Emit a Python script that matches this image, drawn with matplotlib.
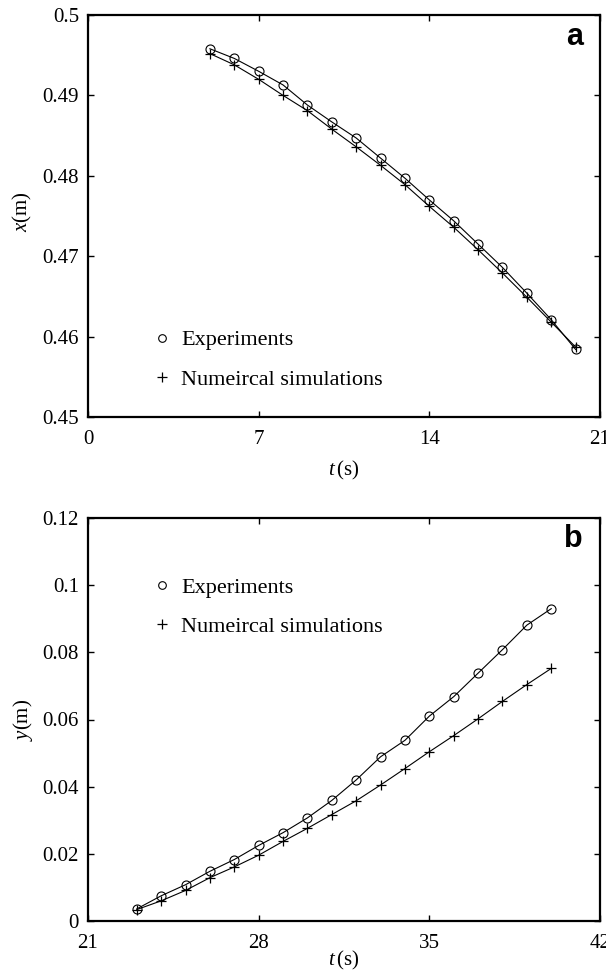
import matplotlib
matplotlib.use("Agg")
import matplotlib.pyplot as plt
from matplotlib.lines import Line2D

# ---- data ----
t_a = [5, 6, 7, 8, 9, 10, 11, 12, 13, 14, 15, 16, 17, 18, 19, 20]
exp_a = [0.4958, 0.4946, 0.4930, 0.4913, 0.4888, 0.4867, 0.4847, 0.4822,
         0.4797, 0.4770, 0.4744, 0.4715, 0.4686, 0.4654, 0.4621, 0.4584]
sim_a = [0.4952, 0.4938, 0.4920, 0.4900, 0.4881, 0.4858, 0.4836, 0.4813,
         0.4789, 0.4762, 0.4736, 0.4708, 0.4679, 0.4649, 0.4618, 0.4587]

t_b = [23, 24, 25, 26, 27, 28, 29, 30, 31, 32, 33, 34, 35, 36, 37, 38, 39, 40]
exp_b = [0.0036, 0.0075, 0.0108, 0.0148, 0.0183, 0.0225, 0.0263, 0.0307, 0.0359,
         0.0420, 0.0489, 0.0538, 0.0610, 0.0668, 0.0738, 0.0808, 0.0881, 0.0930]
sim_b = [0.0034, 0.0060, 0.0091, 0.0129, 0.0161, 0.0196, 0.0237, 0.0276, 0.0317,
         0.0358, 0.0405, 0.0454, 0.0504, 0.0552, 0.0602, 0.0654, 0.0704, 0.0752]

xticks_a = [0, 7, 14, 21]
yticks_a = [0.45, 0.46, 0.47, 0.48, 0.49, 0.5]
yticklabels_a = ['0.45', '0.46', '0.47', '0.48', '0.49', '0.5']
xticks_b = [21, 28, 35, 42]
yticks_b = [0, 0.02, 0.04, 0.06, 0.08, 0.1, 0.12]
yticklabels_b = ['0', '0.02', '0.04', '0.06', '0.08', '0.1', '0.12']

labels = ['Experiments', 'Numeircal simulations']

# ---- style ----
plt.rcParams['font.family'] = ['Liberation Serif', 'DejaVu Serif']
plt.rcParams['mathtext.fontset'] = 'custom'
plt.rcParams['mathtext.rm'] = 'Liberation Serif'
plt.rcParams['mathtext.it'] = 'Liberation Serif:italic'

fig = plt.figure(figsize=(6.06, 9.73), dpi=100)
W, H = 606, 973
ax_a = fig.add_axes([88 / W, 1 - 417 / H, 512 / W, 402 / H])
ax_b = fig.add_axes([88 / W, 1 - 921 / H, 512 / W, 403 / H])

tick_fs = 15
ms = 6.5
lw = 0.8


def style(ax, xt, yt, ytl, xlim, ylim):
    ax.set_xlim(*xlim)
    ax.set_ylim(*ylim)
    ax.set_xticks(xt)
    ax.set_xticklabels([str(v) for v in xt])
    ax.set_yticks(yt)
    ax.set_yticklabels(ytl)
    ax.tick_params(direction='in', length=4, width=1.0, top=True, right=True,
                   labelsize=tick_fs)
    ax.tick_params(axis='x', pad=9.5)
    ax.tick_params(axis='y', pad=6.5)
    for s in ax.spines.values():
        s.set_linewidth(1.6)


def draw(ax, t, e, s):
    ax.plot(t, e, '-', color='black', lw=lw, marker='o', ms=ms,
            mfc='none', mec='black', mew=0.8)
    ax.plot(t, s, '-', color='black', lw=lw, marker='+', ms=ms + 1,
            mec='black', mew=0.9)


def legend(ax, y):
    handles = [Line2D([], [], ls='none', marker='o', ms=5.5, mfc='none',
                      mec='black', mew=0.8),
               Line2D([], [], ls='none', marker='+', ms=6.5, mec='black',
                      mew=0.9)]
    ax.legend(handles, labels, loc='center left', bbox_to_anchor=(0.1225, y),
              frameon=False, fontsize=16, handlelength=1.0,
              handletextpad=0.37, borderpad=0, borderaxespad=0,
              labelspacing=0.85)


draw(ax_a, t_a, exp_a, sim_a)
style(ax_a, xticks_a, yticks_a, yticklabels_a, (0, 21), (0.45, 0.5))
ax_a.set_xlabel(r'$t\,$(s)', fontsize=tick_fs, va='center')
ax_a.xaxis.set_label_coords(0.5, -0.132)
ax_a.set_ylabel(r'$x$(m)', fontsize=tick_fs, va='center')
ax_a.yaxis.set_label_coords(-0.127, 0.51)
legend(ax_a, 0.142)
ax_a.text(0.967, 0.945, 'a', transform=ax_a.transAxes, ha='right',
          va='center', fontsize=22, fontweight='bold',
          family=['Liberation Sans', 'DejaVu Sans'])

draw(ax_b, t_b, exp_b, sim_b)
style(ax_b, xticks_b, yticks_b, yticklabels_b, (21, 42), (0, 0.12))
ax_b.set_xlabel(r'$t\,$(s)', fontsize=tick_fs, va='center')
ax_b.xaxis.set_label_coords(0.5, -0.097)
ax_b.set_ylabel(r'$y$(m)', fontsize=tick_fs, va='center')
ax_b.yaxis.set_label_coords(-0.127, 0.5)
legend(ax_b, 0.779)
ax_b.text(0.967, 0.949, 'b', transform=ax_b.transAxes, ha='right',
          va='center', fontsize=22, fontweight='bold',
          family=['Liberation Sans', 'DejaVu Sans'])

fig.savefig('out.png', dpi=100)
